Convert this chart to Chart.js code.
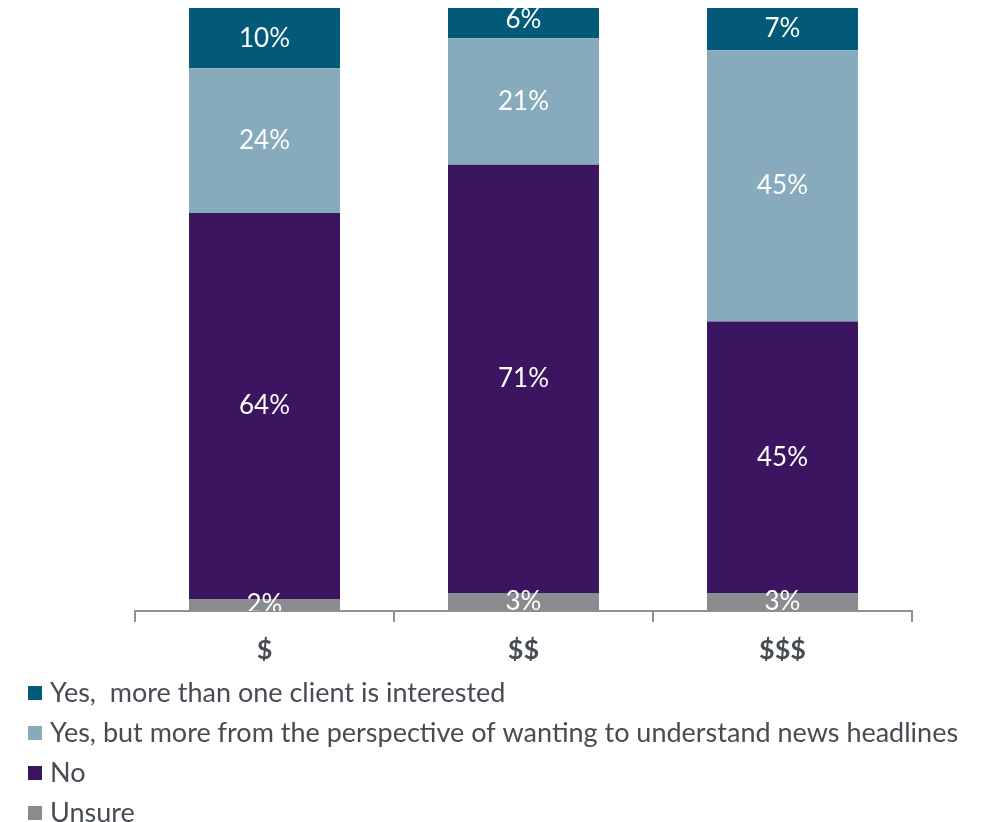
<!DOCTYPE html>
<html>
<head>
<meta charset="utf-8">
<script src="https://cdn.jsdelivr.net/npm/chart.js@4"></script>
<style>
  html, body { margin: 0; padding: 0; background: #fff; }
  #wrap { width: 1000px; height: 822px; position: relative; }
</style>
</head>
<body>
<div id="wrap"><canvas id="myChart"></canvas></div>
<script>
// categories and series (percent of respondents)
let labels = ['$', '$$', '$$$'];
let unsure = [2, 3, 3];
let no = [64, 71, 45];
let yesNews = [24, 21, 45];
let yesClients = [10, 6, 7];

let fontFamily = 'Lato, "Open Sans", sans-serif';
let textColor = '#474b52';

// white % labels centred in each segment, clipped to the plot area
let segmentLabels = {
    id: 'segmentLabels',
    afterDatasetsDraw(chart) {
        let ctx = chart.ctx;
        let area = chart.chartArea;
        ctx.save();
        ctx.beginPath();
        ctx.rect(area.left, area.top, area.right - area.left, area.bottom - area.top);
        ctx.clip();
        ctx.fillStyle = '#ffffff';
        ctx.font = '26px ' + fontFamily;
        ctx.textAlign = 'center';
        ctx.textBaseline = 'middle';
        chart.data.datasets.forEach(function(ds, i) {
            let meta = chart.getDatasetMeta(i);
            meta.data.forEach(function(bar, j) {
                let mid = (bar.y + bar.base) / 2;
                ctx.fillText(ds.data[j] + '%', bar.x, mid);
            });
        });
        ctx.restore();
    }
};

// legend as a single left-aligned column under the axis
let columnLegend = {
    id: 'columnLegend',
    afterDraw(chart) {
        let ctx = chart.ctx;
        let items = chart.data.datasets.slice().reverse();
        ctx.save();
        ctx.font = '27px ' + fontFamily;
        ctx.textBaseline = 'middle';
        ctx.textAlign = 'left';
        items.forEach(function(ds, k) {
            let y = 693 + k * 40;
            ctx.fillStyle = ds.backgroundColor;
            ctx.fillRect(28, y - 7, 14, 14);
            ctx.fillStyle = textColor;
            ctx.fillText(ds.label, 50, y);
        });
        ctx.restore();
    }
};

let data = {
    labels: labels,
    datasets: [
        { label: 'Unsure', data: unsure, backgroundColor: '#8a8c8f' },
        { label: 'No', data: no, backgroundColor: '#3b1560' },
        { label: 'Yes, but more from the perspective of wanting to understand news headlines', data: yesNews, backgroundColor: '#87aabd' },
        { label: 'Yes,  more than one client is interested', data: yesClients, backgroundColor: '#025a78' }
    ]
};

let config = {
    type: 'bar',
    data: data,
    options: {
        responsive: true,
        maintainAspectRatio: false,
        animation: false,
        datasets: {
            bar: { categoryPercentage: 1, barPercentage: 0.583, borderWidth: 0 }
        },
        layout: { padding: { left: 135, right: 88, top: 8, bottom: 161 } },
        plugins: {
            legend: { display: false },
            tooltip: { enabled: false }
        },
        scales: {
            x: {
                stacked: true,
                afterFit: function(scale) { scale.height = 50; },
                border: { display: true, color: '#8e9093', width: 2 },
                grid: {
                    offset: true,
                    drawOnChartArea: false,
                    drawTicks: true,
                    tickLength: 11,
                    color: '#8e9093',
                    lineWidth: 2
                },
                ticks: {
                    color: textColor,
                    padding: 12,
                    font: { family: fontFamily, size: 27, weight: 'bold' }
                }
            },
            y: {
                stacked: true,
                display: false,
                min: 0,
                max: 100
            }
        }
    },
    plugins: [segmentLabels, columnLegend]
};

const myChart = new Chart(document.getElementById('myChart'), config);
</script>
</body>
</html>
